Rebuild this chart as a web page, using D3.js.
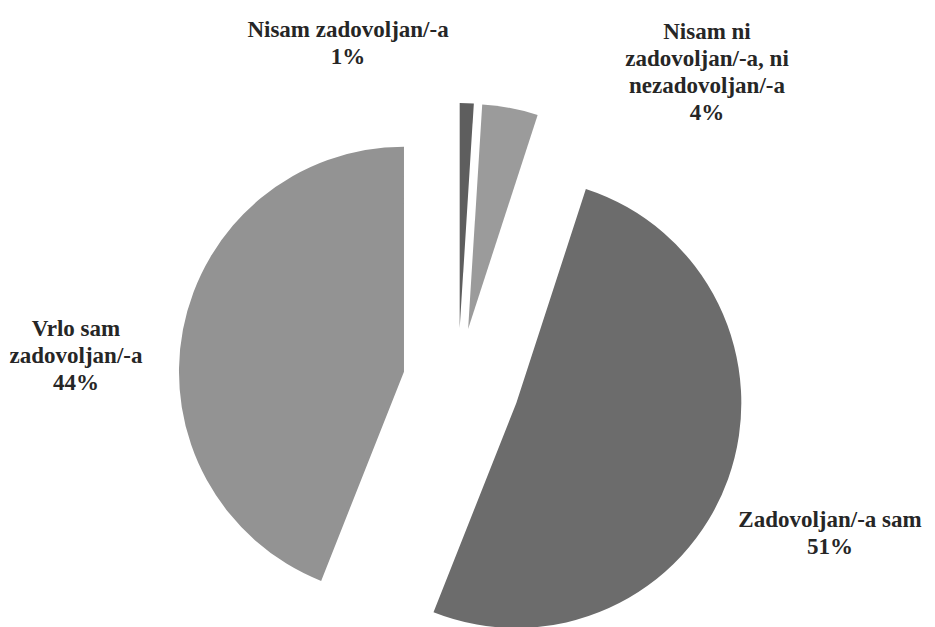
<!DOCTYPE html>
<html>
<head>
<meta charset="utf-8">
<script src="https://cdn.jsdelivr.net/npm/d3@7"></script>
<style>
  html, body { margin: 0; padding: 0; background: #ffffff; }
  svg { display: block; }
  .lbl { font-family: "Liberation Serif", "DejaVu Serif", "Times New Roman", serif; font-weight: bold; }
</style>
</head>
<body>
<svg id="chart" width="935" height="627"></svg>
<script>
// ---- data ----
const categories = [
  "Nisam zadovoljan/-a",
  "Nisam ni zadovoljan/-a, ni nezadovoljan/-a",
  "Zadovoljan/-a sam",
  "Vrlo sam zadovoljan/-a"
];
const values = [1, 4, 51, 44];
const labelLines = [
  ["Nisam zadovoljan/-a"],
  ["Nisam ni", "zadovoljan/-a, ni", "nezadovoljan/-a"],
  ["Zadovoljan/-a sam"],
  ["Vrlo sam", "zadovoljan/-a"]
];

// ---- style / layout ----
const colors = ["#5e5e5e", "#9b9b9b", "#6c6c6c", "#939393"];
const explode = [54, 54, 62, 55];
const labelPos = [[348, 37], [707, 39], [830, 527], [76, 336]];
const center = [458, 382];
const radius = 225;
const fontSize = 23;
const lineH = 27;

const svg = d3.select("#chart");
const pie = d3.pie().sort(null).value(d => d).startAngle(0).endAngle(2 * Math.PI);
const arc = d3.arc().innerRadius(0).outerRadius(radius);
const arcs = pie(values);

svg.append("g")
  .selectAll("path")
  .data(arcs)
  .join("path")
  .attr("d", arc)
  .attr("fill", (d, i) => colors[i])
  .attr("transform", (d, i) => {
    const mid = (d.startAngle + d.endAngle) / 2;
    const x = center[0] + explode[i] * Math.sin(mid);
    const y = center[1] - explode[i] * Math.cos(mid);
    return `translate(${x},${y})`;
  });

const labels = svg.append("g")
  .attr("class", "lbl")
  .style("font-size", fontSize + "px")
  .attr("fill", "#262626")
  .attr("text-anchor", "middle");

arcs.forEach((d, i) => {
  const lines = labelLines[i].concat([values[i] + "%"]);
  const t = labels.append("text")
    .attr("x", labelPos[i][0])
    .attr("y", labelPos[i][1]);
  lines.forEach((ln, k) => {
    t.append("tspan")
      .attr("x", labelPos[i][0])
      .attr("dy", k === 0 ? 0 : lineH)
      .text(ln);
  });
});
</script>
</body>
</html>
